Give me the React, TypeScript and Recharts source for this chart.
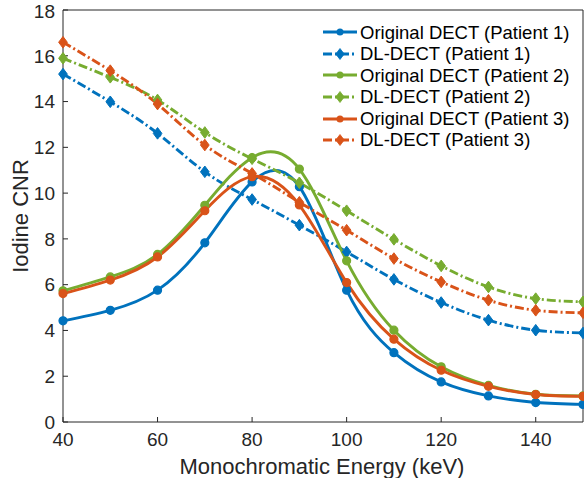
import React from 'react';
import { LineChart, Line, XAxis, YAxis } from 'recharts';

const energies = [40, 50, 60, 70, 80, 90, 100, 110, 120, 130, 140, 150];

const origP1 = [4.42, 4.88, 5.76, 7.83, 10.49, 10.28, 5.76, 3.03, 1.75, 1.14, 0.85, 0.77];
const dlP1 = [15.2, 13.99, 12.61, 10.93, 9.72, 8.6, 7.43, 6.23, 5.22, 4.45, 4.01, 3.89];
const origP2 = [5.73, 6.34, 7.32, 9.47, 11.55, 11.05, 7.04, 4.01, 2.41, 1.6, 1.21, 1.14];
const dlP2 = [15.89, 15.06, 14.07, 12.65, 11.5, 10.45, 9.23, 7.98, 6.82, 5.9, 5.39, 5.25];
const origP3 = [5.61, 6.2, 7.21, 9.23, 10.72, 9.48, 6.09, 3.62, 2.26, 1.56, 1.2, 1.12];
const dlP3 = [16.59, 15.35, 13.89, 12.1, 10.86, 9.6, 8.38, 7.14, 6.12, 5.32, 4.88, 4.77];

const xTicks = [40, 60, 80, 100, 120, 140];
const yTicks = [0, 2, 4, 6, 8, 10, 12, 14, 16, 18];

const BLUE = '#0072BD';
const ORANGE = '#D95319';
const GREEN = '#77AC30';
const INK = '#262626';
const FONT = '"Liberation Sans", Arial, Helvetica, sans-serif';
const DASH = '9 3 2 3';

const series = [
  { key: 'o1', name: 'Original DECT (Patient 1)', color: BLUE, dashed: false, values: origP1 },
  { key: 'd1', name: 'DL-DECT (Patient 1)', color: BLUE, dashed: true, values: dlP1 },
  { key: 'o2', name: 'Original DECT (Patient 2)', color: GREEN, dashed: false, values: origP2 },
  { key: 'd2', name: 'DL-DECT (Patient 2)', color: GREEN, dashed: true, values: dlP2 },
  { key: 'o3', name: 'Original DECT (Patient 3)', color: ORANGE, dashed: false, values: origP3 },
  { key: 'd3', name: 'DL-DECT (Patient 3)', color: ORANGE, dashed: true, values: dlP3 },
];

const data = energies.map((e, i) => {
  const row: any = { e };
  series.forEach(s => { row[s.key] = s.values[i]; });
  return row;
});

const circleDot = (color: string) => (props: any) => {
  const { cx, cy, index } = props;
  return <circle key={index} cx={cx} cy={cy} r={4} fill={color} stroke={color} strokeWidth={1.2} />;
};

const diamondDot = (color: string) => (props: any) => {
  const { cx, cy, index } = props;
  const s = 5.8;
  return (
    <path
      key={index}
      d={`M${cx},${cy - s}L${cx + s * 0.75},${cy}L${cx},${cy + s}L${cx - s * 0.75},${cy}Z`}
      fill={color}
      stroke={color}
      strokeWidth={1}
    />
  );
};

const LegendBox = () => (
  <div style={{ position: 'absolute', left: 322, top: 21.5, fontFamily: FONT, fontSize: 18.5, color: '#000', lineHeight: '21.6px' }}>
    {series.map(s => (
      <div key={s.key} style={{ display: 'flex', alignItems: 'center', height: 21.6, whiteSpace: 'nowrap' }}>
        <svg width={36} height={14} style={{ marginRight: 2 }}>
          <line x1={1} y1={7} x2={35} y2={7} stroke={s.color} strokeWidth={2.8} strokeDasharray={s.dashed ? '9 3 2 3' : undefined} />
          {s.dashed ? (
            <path d="M18,1.5L22.2,7L18,12.5L13.8,7Z" fill={s.color} stroke={s.color} strokeWidth={0.8} />
          ) : (
            <circle cx={18} cy={7} r={3.5} fill={s.color} />
          )}
        </svg>
        <span>{s.name}</span>
      </div>
    ))}
  </div>
);

const YLabel = () => (
  <text x={20} y={216} transform="rotate(-90 20 216)" textAnchor="middle" dominantBaseline="central" fill={INK} fontSize={22} fontFamily={FONT}>
    Iodine CNR
  </text>
);

const XLabel = () => (
  <text x={322} y={466} textAnchor="middle" dominantBaseline="central" fill={INK} fontSize={22} fontFamily={FONT}>
    Monochromatic Energy (keV)
  </text>
);

export default function App() {
  return (
    <div style={{ position: 'absolute', left: 0, top: 0, width: 584, height: 478, background: '#fff' }}>
      <LineChart width={584} height={478} data={data} margin={{ top: 9, right: 0, left: 0, bottom: 0 }}>
        <XAxis
          dataKey="e"
          type="number"
          domain={[40, 150]}
          ticks={xTicks}
          height={56}
          stroke={INK}
          tickSize={-5}
          tickMargin={16}
          tick={{ fill: INK, fontSize: 19, fontFamily: FONT }}
          label={<XLabel />}
        />
        <XAxis
          xAxisId="top"
          dataKey="e"
          orientation="top"
          type="number"
          domain={[40, 150]}
          ticks={xTicks}
          allowDataOverflow
          height={1}
          stroke={INK}
          tickSize={-5}
          tick={false}
        />
        <YAxis
          type="number"
          domain={[0, 18]}
          ticks={yTicks}
          width={63}
          stroke={INK}
          tickSize={-5}
          tickMargin={13}
          tick={{ fill: INK, fontSize: 19, fontFamily: FONT }}
          label={<YLabel />}
        />
        <YAxis
          yAxisId="right"
          orientation="right"
          type="number"
          domain={[0, 18]}
          ticks={yTicks}
          allowDataOverflow
          width={1}
          stroke={INK}
          tickSize={-5}
          tick={false}
        />
        <Line
          xAxisId="top"
          yAxisId="right"
          dataKey="o1"
          stroke="none"
          dot={false}
          activeDot={false}
          legendType="none"
          isAnimationActive={false}
        />
        {series.map(s => (
          <Line
            key={s.key}
            dataKey={s.key}
            name={s.name}
            type="natural"
            stroke={s.color}
            strokeWidth={2.9}
            strokeDasharray={s.dashed ? DASH : undefined}
            dot={s.dashed ? diamondDot(s.color) : circleDot(s.color)}
            activeDot={false}
            isAnimationActive={false}
          />
        ))}
      </LineChart>
      <LegendBox />
    </div>
  );
}
